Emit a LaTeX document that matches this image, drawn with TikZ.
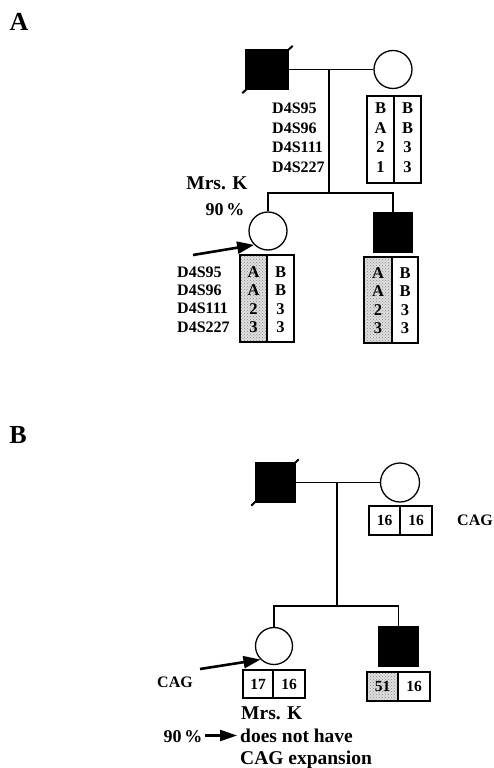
\documentclass[tikz,border=0pt]{standalone}
\usepackage{fontspec}
\setmainfont{Liberation Serif}
\usetikzlibrary{arrows.meta,patterns}
\tikzset{
  ln/.style={line width=1.3pt},
  male/.style={rectangle, draw, fill=black, line width=1.3pt, inner sep=0pt},
  female/.style={circle, draw, line width=1.3pt, inner sep=0pt, fill=white},
  half/.style={rectangle, draw, line width=1.2pt, inner sep=0pt},
  shaded/.style={half, preaction={fill=gray!25}, pattern=crosshatch dots, pattern color=gray!95},
  slash/.style={line width=2pt},
  lbl/.style={inner sep=0pt, font=\fontsize{16}{19}\selectfont\bfseries},
  ent/.style={inner sep=0pt, font=\fontsize{16.5}{18}\selectfont\bfseries},
  num/.style={inner sep=0pt, font=\fontsize{15.5}{18}\selectfont\bfseries},
  big/.style={inner sep=0pt, font=\fontsize{19.5}{22}\selectfont\bfseries},
  panel/.style={inner sep=0pt, font=\fontsize{26}{28}\selectfont\bfseries},
  pointer/.style={line width=2.6pt, -{Triangle[length=17pt,width=12pt]}},
}
\begin{document}
\begin{tikzpicture}[x=1pt,y=-1pt]
\useasboundingbox (0,0) rectangle (493,768);
% ---------------- Panel A ----------------
\node[panel] (labA) at (19,22) {A};
\node[male, minimum width=42pt, minimum height=40pt] (faA) at (267,69.5) {};
\draw[slash] ([shift={(-3,3)}]faA.south west) -- ([shift={(4,-3)}]faA.north east);
\node[female, minimum size=38pt] (moA) at (393,69.5) {};
\draw[ln] (faA.east) -- (moA.west);
\coordinate (cA) at (329,69.5);
\coordinate (sA) at (329,193);
\coordinate (sAl) at (268,193);
\coordinate (sAr) at (393,193);
\node[female, minimum size=38pt] (daA) at (268,231) {};
\node[male, minimum width=38pt, minimum height=39pt] (soA) at (393,232.5) {};
\draw[ln] (cA) -- (sA);
\draw[ln] (daA.north) -- (sAl) -- (sAr) -- (soA.north);
% mother haplotype box
\node[half, minimum width=27pt, minimum height=87pt] (moAl) at (380.5,139.5) {};
\node[half, minimum width=27pt, minimum height=87pt] (moAr) at (407.5,139.5) {};
\foreach \t [count=\i] in {B,A,2,1}
  \node[ent, anchor=base] (moAl\i) at (380.5,{113.5+19.7*(\i-1)}) {\t};
\foreach \t [count=\i] in {B,B,3,3}
  \node[ent, anchor=base] (moAr\i) at (407.5,{113.5+19.7*(\i-1)}) {\t};
\foreach \t [count=\i] in {D4S95,D4S96,D4S111,D4S227}
  \node[lbl, anchor=base west] (mkA\i) at (272,{113.3+19.7*(\i-1)}) {\t};
\node[big, font=\fontsize{19.5}{22}\selectfont\bfseries] (mrsA) at (217,183) {Mrs. K};
\node[big, font=\fontsize{18}{22}\selectfont\bfseries] (pcA) at (225,210) {90\,\%};
\coordinate (arA) at (193,255);
\draw[pointer] (arA) -- (daA.south west);
% daughter haplotype box
\node[shaded, minimum width=27pt, minimum height=87pt] (daAl) at (253.5,298.5) {};
\node[half, minimum width=27pt, minimum height=87pt] (daAr) at (280.5,298.5) {};
\foreach \t [count=\i] in {A,A,2,3}
  \node[ent, anchor=base] (daAl\i) at (253.5,{277.5+18.3*(\i-1)}) {\t};
\foreach \t [count=\i] in {B,B,3,3}
  \node[ent, anchor=base] (daAr\i) at (280.5,{277.5+18.3*(\i-1)}) {\t};
\foreach \t [count=\i] in {D4S95,D4S96,D4S111,D4S227}
  \node[lbl, anchor=base west] (mkD\i) at (177,{277.3+18.3*(\i-1)}) {\t};
% son haplotype box
\node[shaded, minimum width=28pt, minimum height=86pt] (soAl) at (378,300) {};
\node[half, minimum width=26pt, minimum height=86pt] (soAr) at (405,300) {};
\foreach \t [count=\i] in {A,A,2,3}
  \node[ent, anchor=base] (soAl\i) at (378,{278.5+18.3*(\i-1)}) {\t};
\foreach \t [count=\i] in {B,B,3,3}
  \node[ent, anchor=base] (soAr\i) at (405,{278.5+18.3*(\i-1)}) {\t};
% ---------------- Panel B ----------------
\node[panel] (labB) at (18,435) {B};
\node[male, minimum width=39pt, minimum height=39pt] (faB) at (275.5,482.5) {};
\draw[slash] ([shift={(-4,3)}]faB.south west) -- ([shift={(3,-3)}]faB.north east);
\node[female, minimum size=39pt] (moB) at (400,482.5) {};
\draw[ln] (faB.east) -- (moB.west);
\coordinate (cB) at (337,482.5);
\coordinate (sB) at (337,606);
\coordinate (sBl) at (274,606);
\coordinate (sBr) at (398.5,606);
\node[female, minimum size=37pt] (daB) at (274,646) {};
\node[male, minimum width=39pt, minimum height=39pt] (soB) at (398.5,646.5) {};
\draw[ln] (cB) -- (sB);
\draw[ln] (daB.north) -- (sBl) -- (sBr) -- (soB.north);
% mother CAG
\node[half, minimum width=31pt, minimum height=29pt] (moBl) at (384.5,520.5) {};
\node[half, minimum width=32pt, minimum height=29pt] (moBr) at (416,520.5) {};
\node[num, anchor=base] (moBl1) at (384.5,525.5) {16};
\node[num, anchor=base] (moBr1) at (416,525.5) {16};
\node[lbl] (cagR) at (475,520) {CAG};
% daughter CAG
\node[half, minimum width=30pt, minimum height=28pt] (daBl) at (258,684) {};
\node[half, minimum width=32pt, minimum height=28pt] (daBr) at (289,684) {};
\node[num, anchor=base] (daBl1) at (258,689) {17};
\node[num, anchor=base] (daBr1) at (289,689) {16};
\node[lbl] (cagL) at (175,682) {CAG};
\coordinate (arB) at (200,669);
\draw[pointer] (arB) -- (daB.south west);
% son CAG
\node[shaded, minimum width=31pt, minimum height=29pt] (soBl) at (382.5,686.5) {};
\node[half, minimum width=32pt, minimum height=29pt] (soBr) at (414,686.5) {};
\node[num, anchor=base] (soBl1) at (382.5,691.5) {51};
\node[num, anchor=base] (soBr1) at (414,691.5) {16};
% caption
\node[big, anchor=base west] (mrsB) at (241,719.5) {Mrs. K};
\node[big, anchor=base west] (dnh) at (240,742) {does not have};
\node[big, anchor=base west] (cagE) at (240,764.5) {CAG expansion};
\node[big, font=\fontsize{18}{22}\selectfont\bfseries, anchor=base] (pcB) at (183,742) {90\,\%};
\coordinate (pcBe) at (205,735.5);
\draw[line width=2.2pt, -{Triangle[length=17pt,width=11pt]}] (pcBe) -- ([xshift=-3pt]dnh.west |- pcBe);
\end{tikzpicture}
\end{document}
